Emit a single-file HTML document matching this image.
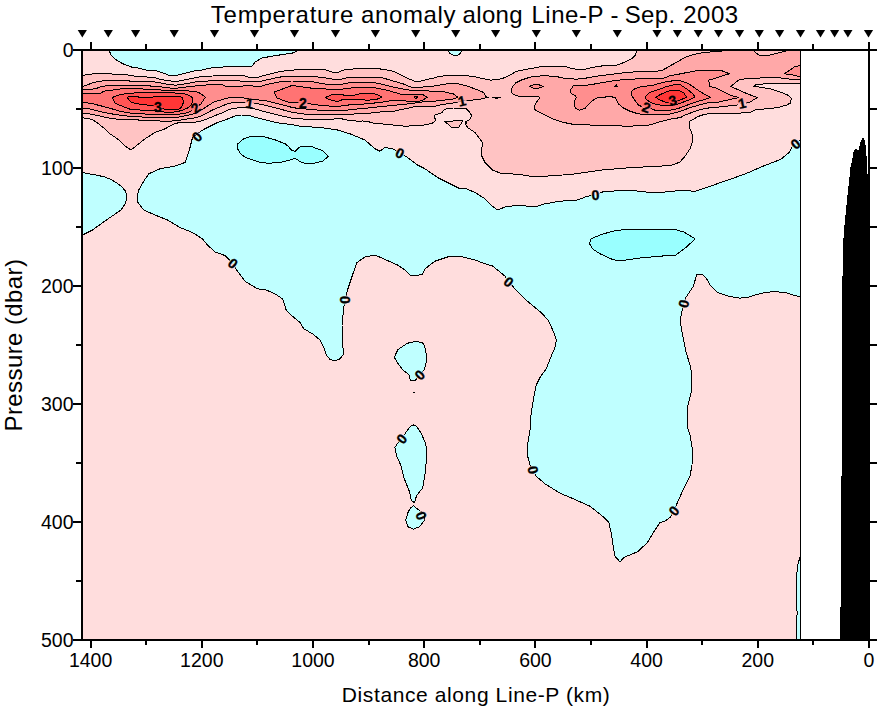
<!DOCTYPE html>
<html><head><meta charset="utf-8"><title>Temperature anomaly along Line-P - Sep. 2003</title>
<style>html,body{margin:0;padding:0;background:#fff;}body{width:878px;height:708px;position:relative;overflow:hidden;font-family:"Liberation Sans",sans-serif;}</style>
</head><body>
<svg width="878" height="708" viewBox="0 0 878 708" style="position:absolute;left:0;top:0">
<rect x="0" y="0" width="878" height="708" fill="#fff"/>
<g shape-rendering="crispEdges">
<rect x="82.5" y="50.0" width="718.0" height="589.5" fill="#FFDDDD"/>
<path d="M109.4 50.0 L109.4 51.0 L111.2 55.5 L115.0 59.2 L122.5 63.6 L132.5 67.4 L140.0 68.3 L145.0 69.9 L156.0 70.8 L160.0 72.0 L164.8 73.6 L168.7 75.2 L177.5 75.2 L183.9 73.6 L190.3 72.0 L195.0 70.8 L199.8 70.4 L211.2 68.0 L222.0 67.2 L227.4 66.1 L252.1 66.1 L255.3 61.8 L261.7 58.1 L273.5 55.9 L284.3 54.3 L292.0 53.2 L296.3 51.6 L296.8 50.0 Z" fill="#BFFFFF" stroke="#000" stroke-width="1" stroke-linejoin="round"/>
<path d="M448.1 50.0 L448.1 51.1 L450.3 53.8 L454.5 55.9 L458.8 54.8 L461.5 51.6 L461.5 50.0 Z" fill="#BFFFFF" stroke="#000" stroke-width="1" stroke-linejoin="round"/>
<path d="M82.5 172.5 L87.5 173.5 L96.0 175.0 L105.0 177.0 L112.0 180.0 L117.5 183.5 L122.0 187.0 L125.0 190.5 L127.0 196.0 L126.5 200.0 L125.0 204.0 L121.0 210.0 L113.0 215.5 L105.0 221.0 L92.5 230.0 L82.5 235.0 Z" fill="#BFFFFF" stroke="#000" stroke-width="1" stroke-linejoin="round"/>
<path d="M800.5 140.0 L795.5 143.8 L791.8 147.5 L789.2 152.5 L780.5 159.5 L763.0 166.2 L745.5 173.8 L728.0 180.0 L708.0 187.0 L695.5 191.2 L680.0 190.5 L660.0 192.5 L650.0 192.5 L635.0 190.8 L620.0 190.5 L602.5 192.0 L595.5 195.0 L587.5 196.2 L577.5 200.0 L560.0 201.2 L545.0 203.8 L537.5 206.2 L527.5 206.2 L520.0 205.0 L505.0 207.0 L497.5 210.0 L492.5 206.2 L485.0 198.8 L475.0 192.5 L465.0 188.2 L460.0 188.8 L450.0 183.8 L437.5 177.5 L425.0 168.8 L417.5 165.0 L407.5 157.5 L400.0 153.0 L392.5 148.8 L385.0 147.5 L380.0 151.2 L375.0 148.8 L365.0 140.0 L350.0 133.8 L337.5 130.0 L320.0 127.5 L300.0 126.2 L292.0 124.6 L282.1 123.5 L273.5 121.9 L264.9 119.8 L256.4 117.6 L248.8 115.5 L241.3 115.0 L234.9 116.0 L228.4 118.7 L222.0 121.0 L217.5 122.5 L205.0 128.8 L201.0 131.0 L192.5 137.5 L190.0 147.5 L187.5 156.0 L185.0 162.5 L175.0 166.0 L160.0 168.8 L148.8 173.8 L143.8 181.0 L138.8 190.0 L137.0 196.0 L138.0 202.5 L143.8 210.0 L155.0 215.0 L167.5 220.0 L180.0 227.5 L192.5 232.5 L202.5 238.8 L207.5 245.0 L215.0 252.0 L225.0 255.5 L233.0 263.8 L237.5 271.2 L245.0 281.2 L257.5 288.8 L266.2 290.0 L275.0 293.8 L282.5 298.8 L286.2 310.0 L292.5 316.2 L300.0 322.5 L303.8 328.8 L312.5 333.8 L320.0 340.0 L323.8 347.5 L326.2 355.0 L330.0 359.5 L335.0 360.8 L340.0 358.8 L343.8 353.8 L342.5 345.0 L342.0 325.0 L343.8 307.5 L345.0 300.0 L347.5 290.0 L352.5 275.0 L357.0 262.5 L365.0 257.0 L375.0 255.0 L385.0 259.5 L397.5 265.0 L405.0 270.0 L410.0 275.0 L415.0 275.5 L422.5 274.5 L425.0 268.8 L435.0 261.2 L447.5 257.0 L460.0 256.2 L475.0 260.0 L485.0 263.8 L492.5 266.0 L500.0 272.0 L505.0 276.2 L508.8 282.0 L515.0 288.8 L527.5 301.2 L542.5 313.8 L548.8 321.2 L553.8 332.5 L556.2 340.0 L555.5 346.2 L551.2 356.2 L546.2 368.8 L540.0 377.5 L536.2 385.0 L533.8 397.5 L531.2 412.5 L530.0 430.0 L527.5 445.0 L528.0 457.5 L530.0 465.0 L533.0 470.0 L536.2 476.2 L545.0 483.8 L560.0 493.2 L575.0 499.5 L590.0 506.2 L602.5 516.2 L608.8 522.5 L611.2 532.5 L613.0 545.0 L615.0 556.2 L620.0 562.0 L623.8 557.5 L637.5 551.8 L647.5 542.5 L655.0 530.0 L660.0 522.5 L665.0 521.2 L670.0 517.5 L673.8 510.8 L677.5 502.5 L682.5 491.2 L690.0 476.2 L692.0 465.0 L692.5 450.0 L690.0 435.0 L687.5 427.5 L687.0 420.0 L688.0 405.0 L691.2 392.5 L692.0 380.0 L690.8 367.5 L686.2 352.5 L682.5 335.0 L680.5 322.5 L681.2 313.8 L683.8 303.8 L685.9 297.4 L688.9 292.9 L693.3 286.3 L695.5 278.9 L697.0 274.4 L702.2 274.0 L706.7 278.9 L710.4 285.5 L717.0 292.2 L727.4 295.9 L739.2 298.1 L746.6 297.7 L754.0 295.2 L764.4 292.6 L774.8 291.5 L786.6 292.9 L794.0 295.2 L800.5 297.1 Z" fill="#BFFFFF" stroke="#000" stroke-width="1" stroke-linejoin="round"/>
<path d="M394.2 357.3 L398.0 349.5 L407.3 343.3 L416.6 341.1 L423.4 343.3 L425.9 351.1 L426.6 360.4 L424.4 369.7 L419.7 375.0 L415.0 380.6 L410.4 380.6 L408.8 374.4 L402.6 369.7 L398.0 363.5 Z" fill="#BFFFFF" stroke="#000" stroke-width="1" stroke-linejoin="round"/>
<path d="M413.5 425.0 L416.6 426.3 L421.3 433.4 L425.9 444.3 L426.6 456.7 L425.3 472.3 L422.8 487.8 L416.6 495.6 L414.4 502.7 L411.3 500.2 L409.8 492.5 L404.2 478.5 L401.1 466.0 L396.4 455.2 L394.9 447.4 L398.0 442.7 L401.7 438.7 L407.3 430.3 L410.4 426.3 Z" fill="#BFFFFF" stroke="#000" stroke-width="1" stroke-linejoin="round"/>
<path d="M413.5 505.8 L418.2 509.6 L424.4 514.2 L425.0 517.0 L424.4 520.4 L419.7 526.7 L413.5 529.1 L407.9 526.7 L405.7 520.4 L407.9 512.7 L410.4 508.0 Z" fill="#BFFFFF" stroke="#000" stroke-width="1" stroke-linejoin="round"/>
<path d="M800.5 554.9 L797.6 565.9 L796.3 578.7 L796.3 608.0 L797.2 611.7 L796.3 626.4 L796.3 639.5 L800.5 639.5 Z" fill="#BFFFFF" stroke="#000" stroke-width="1" stroke-linejoin="round"/>
<path d="M237.3 144.4 L242.5 139.4 L250.0 136.5 L262.6 136.5 L273.9 139.4 L285.1 143.8 L288.9 146.9 L291.4 150.1 L295.2 151.3 L300.2 146.6 L311.5 146.6 L322.7 150.7 L328.4 156.3 L322.7 161.1 L315.2 163.0 L303.9 163.0 L299.5 161.3 L295.2 158.2 L287.6 160.7 L280.1 162.6 L267.6 163.2 L258.8 162.0 L246.3 157.8 L241.3 154.4 L238.1 150.1 Z" fill="#99FFFF" stroke="#000" stroke-width="1" stroke-linejoin="round"/>
<path d="M589.5 243.8 L591.0 238.8 L600.0 235.0 L612.5 231.2 L627.5 229.2 L645.0 229.5 L660.0 229.5 L675.0 229.5 L683.8 232.0 L695.0 238.8 L687.5 246.2 L676.0 255.0 L660.0 256.2 L640.0 258.0 L620.0 260.8 L612.5 259.5 L600.0 253.8 L592.5 248.8 Z" fill="#99FFFF" stroke="#000" stroke-width="1" stroke-linejoin="round"/>
<path d="M82.5 75.4 L89.2 74.4 L98.0 73.3 L111.5 73.3 L112.3 74.4 L125.1 74.6 L133.8 76.0 L140.0 76.4 L146.6 77.0 L152.0 77.4 L156.0 78.0 L160.0 79.2 L164.0 80.0 L172.7 81.2 L178.3 81.2 L183.9 80.0 L191.9 78.4 L199.8 76.8 L212.6 76.0 L222.0 75.6 L244.5 75.8 L248.8 77.4 L257.4 77.4 L264.9 75.2 L275.7 72.5 L284.3 70.9 L292.0 70.4 L298.4 69.3 L324.2 69.3 L328.5 70.9 L336.0 73.1 L342.5 70.4 L347.8 69.3 L356.4 68.8 L362.0 68.8 L377.0 68.5 L386.7 69.9 L394.2 71.5 L402.8 75.8 L409.2 79.0 L414.6 81.1 L421.1 81.1 L428.6 79.0 L432.0 78.5 L439.5 76.3 L453.5 75.2 L466.4 75.6 L474.9 76.8 L482.5 78.5 L490.0 80.1 L496.4 79.8 L502.0 78.5 L505.2 77.4 L510.6 74.7 L516.0 71.5 L523.5 69.9 L532.1 68.3 L541.7 66.6 L553.5 66.1 L564.3 66.1 L568.6 67.7 L572.0 68.3 L578.4 69.9 L582.7 69.9 L593.5 67.2 L604.2 65.6 L617.1 65.0 L625.7 61.8 L632.1 58.6 L635.3 55.4 L636.4 51.1 L636.4 50.0 L800.5 50.0 L800.5 83.2 L777.7 83.8 L756.4 84.1 L753.9 86.3 L758.9 87.0 L770.2 88.8 L780.2 92.0 L787.7 95.1 L791.5 98.2 L790.2 103.2 L786.5 105.1 L777.7 107.6 L765.2 108.9 L756.4 109.5 L751.4 112.0 L737.6 113.3 L712.5 113.3 L704.3 114.4 L697.8 116.6 L692.5 119.8 L690.0 121.2 L689.5 127.5 L692.0 133.8 L693.0 140.0 L690.0 148.8 L685.0 156.2 L680.0 162.0 L672.5 165.0 L660.0 166.2 L632.5 167.5 L602.5 170.0 L570.0 174.5 L545.0 176.2 L535.0 177.0 L520.0 174.5 L500.0 173.0 L492.5 170.0 L485.0 162.5 L481.2 155.0 L482.5 142.5 L475.0 132.5 L467.5 127.5 L465.5 123.8 L466.9 122.5 L465.3 121.9 L469.6 119.8 L471.7 115.5 L469.6 112.3 L466.4 108.8 L453.5 108.0 L444.9 109.1 L441.7 112.8 L435.2 115.0 L434.1 117.1 L435.8 119.8 L434.1 121.9 L432.0 123.5 L426.4 124.6 L422.1 125.4 L405.0 126.2 L396.4 125.4 L387.8 124.3 L374.9 123.5 L368.4 121.7 L362.0 120.9 L360.7 121.4 L347.8 120.3 L339.2 118.2 L334.9 118.2 L332.8 119.8 L319.9 119.8 L307.0 119.8 L298.4 118.2 L292.0 118.2 L282.1 116.0 L273.5 113.9 L264.9 111.7 L255.3 109.1 L249.9 108.0 L241.3 107.4 L232.7 108.5 L226.3 110.7 L222.0 113.1 L218.2 114.3 L212.6 116.7 L207.8 118.6 L201.4 121.0 L195.0 122.2 L187.1 122.6 L177.5 123.0 L173.5 124.2 L170.0 126.0 L165.0 128.8 L155.0 132.5 L145.0 138.8 L136.0 146.0 L131.0 150.0 L125.0 146.0 L117.5 138.8 L110.0 133.8 L105.0 129.0 L100.3 125.4 L97.2 122.6 L93.2 120.2 L88.4 118.6 L82.5 117.8 Z" fill="#FFC3C3" stroke="#000" stroke-width="1" stroke-linejoin="round"/>
<path d="M444.5 121.2 L463.0 120.8 L458.8 127.0 L451.2 127.0 Z" fill="#FFC3C3" stroke="#000" stroke-width="1" stroke-linejoin="round"/>
<path d="M82.5 86.3 L86.8 85.2 L92.4 82.8 L98.0 81.6 L106.7 80.4 L129.0 80.4 L129.8 81.3 L140.0 81.4 L152.0 81.6 L160.0 82.8 L167.9 84.4 L175.9 85.2 L178.3 84.8 L187.1 83.6 L195.0 82.0 L203.0 81.2 L212.6 80.8 L222.0 80.6 L239.2 80.6 L241.3 81.7 L259.6 81.7 L267.1 79.8 L275.7 77.9 L284.3 76.3 L292.0 76.3 L315.6 76.3 L318.8 77.4 L327.4 78.1 L334.9 79.5 L340.3 79.5 L347.8 77.4 L362.0 77.5 L382.4 77.7 L389.9 80.1 L397.4 82.2 L404.9 84.4 L409.2 86.5 L414.6 87.8 L417.8 87.8 L426.4 86.5 L432.0 86.3 L440.6 84.9 L450.3 83.3 L459.9 84.1 L468.5 86.5 L477.1 89.7 L483.5 92.4 L485.7 96.2 L488.4 97.5 L483.5 98.3 L479.2 99.4 L474.9 99.9 L469.6 100.2 L462.0 100.8 L455.6 102.6 L440.6 104.8 L432.0 106.9 L413.5 106.9 L409.2 108.0 L400.7 109.6 L394.2 111.2 L382.4 111.7 L368.4 113.3 L362.0 113.9 L360.9 113.3 L352.1 114.2 L337.1 114.4 L324.2 114.4 L307.0 114.4 L298.4 113.3 L292.0 112.3 L282.1 109.6 L273.5 107.4 L264.9 105.3 L255.3 103.1 L243.5 102.1 L232.7 102.6 L226.3 104.2 L222.0 106.2 L218.2 107.5 L211.0 110.7 L206.2 113.5 L201.4 115.9 L195.0 117.8 L187.1 119.0 L177.5 120.6 L168.7 121.3 L160.0 121.0 L152.0 120.8 L138.6 120.4 L137.8 119.4 L116.3 119.4 L115.5 118.6 L106.7 117.8 L98.0 115.5 L89.2 113.9 L82.5 113.1 Z" fill="#FFA8A8" stroke="#000" stroke-width="1" stroke-linejoin="round"/>
<path d="M492.0 97.0 L500.7 97.0 L496.4 98.6 Z" fill="#FFA8A8" stroke="#000" stroke-width="1" stroke-linejoin="round"/>
<path d="M82.5 89.5 L92.4 89.1 L98.0 87.9 L101.9 86.3 L112.3 85.2 L149.8 85.2 L150.6 86.3 L152.0 86.3 L160.0 86.7 L167.9 87.9 L175.9 88.3 L182.3 87.5 L191.9 86.3 L199.8 85.6 L207.8 84.8 L222.0 84.6 L226.3 86.5 L241.3 86.5 L245.6 85.4 L253.1 86.0 L261.7 86.0 L267.1 84.4 L275.7 82.7 L284.3 81.1 L292.0 81.0 L311.3 81.4 L319.9 83.3 L328.5 84.4 L341.4 84.4 L350.0 82.7 L362.0 82.2 L373.8 82.4 L382.4 84.4 L391.0 86.5 L399.6 88.4 L407.1 89.7 L413.5 90.8 L422.1 90.8 L432.0 91.1 L441.7 91.3 L453.5 94.0 L457.8 97.2 L453.5 98.9 L440.6 100.5 L432.0 101.4 L426.4 101.5 L417.8 102.6 L409.2 103.7 L399.6 104.8 L382.4 106.4 L368.4 108.0 L362.0 108.5 L352.1 109.6 L341.4 110.7 L319.9 110.3 L307.0 109.1 L298.4 108.5 L292.0 107.4 L282.1 104.8 L273.5 102.6 L264.9 100.5 L257.4 99.9 L253.1 99.4 L247.8 98.9 L241.3 97.2 L232.7 97.2 L226.3 98.3 L222.0 99.7 L218.2 100.7 L213.4 102.3 L207.8 105.9 L203.0 109.1 L199.8 110.7 L195.0 113.5 L187.1 115.5 L178.3 117.1 L167.9 117.8 L160.0 117.4 L152.0 117.3 L142.6 117.1 L133.8 116.3 L125.1 115.9 L116.3 114.7 L107.5 113.1 L98.0 111.1 L89.2 108.7 L82.5 108.3 Z" fill="#FF8E8E" stroke="#000" stroke-width="1" stroke-linejoin="round"/>
<path d="M82.5 93.9 L92.4 93.9 L101.1 93.1 L103.5 91.1 L110.7 90.7 L115.5 89.1 L133.0 88.7 L142.6 88.5 L143.4 89.5 L152.0 89.6 L160.0 89.9 L167.9 90.7 L182.3 90.9 L195.0 91.1 L199.8 93.1 L205.4 97.1 L202.2 101.9 L200.6 104.3 L195.5 107.5 L190.3 111.5 L185.5 113.1 L178.3 114.3 L167.9 114.7 L160.0 114.5 L152.0 114.3 L142.6 113.9 L133.0 113.5 L125.1 112.3 L119.5 111.1 L111.5 108.7 L102.7 106.3 L93.2 103.9 L82.5 101.9 Z" fill="#FF7373" stroke="#000" stroke-width="1" stroke-linejoin="round"/>
<path d="M112.3 97.9 L113.9 96.7 L119.5 94.7 L129.0 93.1 L152.0 92.7 L182.3 93.1 L187.1 94.7 L191.9 97.1 L192.7 100.3 L191.9 103.5 L190.3 105.9 L187.1 108.3 L182.3 110.3 L175.9 111.9 L167.9 112.3 L160.0 111.7 L152.0 110.6 L137.8 109.9 L129.8 109.1 L119.5 105.1 L114.7 102.7 L113.1 99.5 Z" fill="#FF5555" stroke="#000" stroke-width="1" stroke-linejoin="round"/>
<path d="M127.5 97.5 L129.0 96.3 L137.8 96.3 L138.6 97.1 L152.0 97.1 L160.0 96.3 L178.3 96.3 L182.3 97.5 L183.5 101.9 L182.3 105.9 L179.9 108.7 L175.9 109.9 L169.5 109.9 L165.2 109.5 L152.0 105.3 L147.4 105.1 L137.8 103.9 L131.4 102.3 L129.0 100.3 Z" fill="#FF3636" stroke="#000" stroke-width="1" stroke-linejoin="round"/>
<path d="M274.4 91.9 L278.9 90.3 L286.4 87.6 L292.0 85.4 L302.7 87.0 L311.3 88.1 L328.5 89.2 L341.4 89.2 L350.0 88.1 L362.0 87.0 L373.8 87.6 L382.4 89.2 L391.0 91.3 L398.5 93.5 L400.7 94.2 L422.1 94.2 L427.5 97.2 L422.1 100.5 L417.8 101.5 L414.6 101.3 L391.0 100.5 L386.7 101.5 L378.1 102.6 L368.4 103.7 L362.0 104.2 L350.0 104.8 L341.4 106.0 L328.5 106.0 L319.9 105.3 L311.3 104.2 L309.2 103.1 L296.3 102.6 L292.0 102.8 L288.6 102.1 L282.1 99.9 L276.8 97.8 L275.1 94.6 Z" fill="#FF7373" stroke="#000" stroke-width="1" stroke-linejoin="round"/>
<path d="M325.3 97.2 L328.5 96.2 L332.8 94.2 L342.5 94.2 L343.5 95.1 L354.3 95.1 L362.0 93.2 L373.8 93.5 L378.1 95.1 L381.9 97.2 L378.1 98.9 L372.7 99.9 L366.3 100.2 L362.0 99.3 L342.5 99.6 L338.2 101.3 L334.9 101.0 L328.5 99.4 Z" fill="#FF5555" stroke="#000" stroke-width="1" stroke-linejoin="round"/>
<path d="M414.0 96.8 L417.6 96.8 L415.8 98.6 Z" fill="#FF5555" stroke="#000" stroke-width="1" stroke-linejoin="round"/>
<path d="M511.1 90.8 L512.7 86.5 L516.0 82.7 L521.3 80.1 L527.8 77.9 L533.1 76.3 L544.9 75.8 L555.7 76.3 L562.1 77.9 L572.0 78.8 L576.3 79.2 L586.0 78.1 L598.8 75.8 L612.8 74.2 L627.8 72.3 L642.0 71.5 L661.3 70.9 L667.8 67.2 L676.4 62.3 L684.9 57.5 L692.5 54.8 L702.1 52.7 L711.3 51.9 L721.3 51.2 L723.0 50.0 L753.9 50.0 L753.9 51.2 L758.9 55.0 L768.9 55.3 L777.7 53.1 L785.2 51.2 L785.2 50.0 L800.5 50.0 L800.5 79.4 L792.7 79.4 L777.7 77.6 L768.9 77.6 L755.1 78.2 L746.4 78.6 L738.8 80.1 L730.7 86.3 L737.6 89.5 L747.6 93.9 L757.6 97.6 L753.9 99.5 L749.5 102.6 L742.0 103.6 L736.3 105.1 L718.8 107.0 L712.0 107.4 L702.1 109.1 L692.5 112.3 L684.9 115.0 L680.7 117.6 L672.1 118.7 L661.3 121.4 L652.7 124.1 L647.5 125.5 L627.5 126.2 L590.0 125.0 L582.7 124.1 L572.0 124.1 L566.4 123.0 L560.0 121.4 L552.5 118.7 L544.9 115.0 L538.5 111.7 L534.7 109.6 L534.2 106.9 L536.4 102.6 L539.6 97.8 L538.5 96.7 L521.3 96.7 L516.0 95.6 L512.2 93.5 Z" fill="#FFA8A8" stroke="#000" stroke-width="1" stroke-linejoin="round"/>
<path d="M529.4 86.5 L534.2 84.4 L538.5 84.6 L543.3 86.5 L538.5 88.1 L534.2 88.4 Z" fill="#FF8E8E" stroke="#000" stroke-width="1" stroke-linejoin="round"/>
<path d="M570.2 90.5 L573.1 86.0 L586.0 85.4 L598.8 83.3 L613.9 80.6 L627.8 79.2 L642.0 78.8 L661.3 79.0 L669.9 75.8 L678.5 74.2 L687.1 72.5 L695.7 70.9 L704.3 70.4 L711.3 70.0 L720.0 70.0 L729.4 73.8 L725.0 75.0 L717.5 77.6 L708.8 80.1 L709.4 86.3 L716.3 88.2 L725.0 92.6 L730.0 95.1 L738.8 97.6 L732.6 98.9 L718.8 102.0 L712.0 102.6 L706.4 103.1 L700.0 104.8 L692.5 106.9 L684.9 109.6 L677.4 112.3 L667.8 114.4 L652.7 115.0 L646.3 114.4 L642.0 114.4 L636.4 113.3 L630.0 111.2 L623.5 108.0 L618.2 103.7 L616.6 100.5 L614.9 97.2 L608.5 96.7 L597.8 97.8 L593.5 99.9 L589.2 103.7 L584.9 108.5 L579.5 110.1 L575.8 108.5 L574.1 104.8 L574.7 101.0 L576.3 97.8 L575.2 95.6 L572.0 94.0 L570.2 92.5 Z" fill="#FF8E8E" stroke="#000" stroke-width="1" stroke-linejoin="round"/>
<path d="M800.5 65.7 L795.2 66.3 L790.2 70.0 L784.0 73.8 L792.7 75.0 L800.5 76.9 Z" fill="#FF8E8E" stroke="#000" stroke-width="1" stroke-linejoin="round"/>
<path d="M614.6 86.6 L617.8 86.6 L616.2 84.8 Z" fill="#FF7373" stroke="#000" stroke-width="1" stroke-linejoin="round"/>
<path d="M631.1 92.4 L633.2 89.7 L637.5 87.6 L642.0 86.5 L652.7 85.4 L663.5 82.2 L674.2 80.6 L679.6 80.6 L688.2 83.3 L693.5 87.0 L698.9 90.8 L705.3 94.6 L710.7 97.4 L705.0 99.5 L699.0 101.0 L691.3 103.5 L684.9 106.0 L677.4 108.8 L669.0 110.5 L656.0 110.5 L651.6 109.0 L648.4 107.0 L644.0 108.5 L640.2 105.8 L638.6 105.3 L635.3 101.0 L632.1 96.2 Z" fill="#FF7373" stroke="#000" stroke-width="1" stroke-linejoin="round"/>
<path d="M645.2 96.7 L649.5 92.4 L658.1 89.7 L666.7 86.5 L676.4 84.1 L680.7 84.9 L687.1 89.2 L692.5 93.5 L695.1 97.2 L691.4 98.9 L684.9 101.5 L677.4 104.2 L668.8 105.8 L658.1 104.8 L650.6 102.6 L646.3 99.4 Z" fill="#FF5555" stroke="#000" stroke-width="1" stroke-linejoin="round"/>
<path d="M655.4 97.2 L662.4 93.5 L669.9 90.6 L679.6 90.6 L683.9 92.9 L686.6 97.2 L682.8 98.9 L677.4 101.0 L666.7 102.6 L662.4 101.0 L658.1 98.9 Z" fill="#FF3636" stroke="#000" stroke-width="1" stroke-linejoin="round"/>
<rect x="413" y="392" width="2" height="1" fill="#000"/>
<line x1="800.5" y1="50.0" x2="800.5" y2="639.5" stroke="#000" stroke-width="1.2"/>
<path d="M839.8 639.5 L839.8 607.0 L841.0 607.0 L841.0 475.5 L842.0 475.5 L842.0 387.0 L842.1 292.0 L842.8 265.0 L843.6 234.6 L845.5 215.5 L847.0 200.0 L848.6 185.0 L850.5 167.5 L852.4 158.2 L853.5 152.0 L855.0 148.7 L857.0 149.5 L858.5 150.0 L860.5 142.0 L862.5 138.5 L863.9 137.2 L865.0 142.0 L865.8 146.7 L866.8 160.0 L867.7 177.3 L869.0 180.0 L869.0 639.5 Z" fill="#000"/>
<g stroke="#000" stroke-width="2" fill="none">
<line x1="81" y1="49.7" x2="877" y2="49.7"/>
<line x1="81" y1="639.6" x2="877" y2="639.6"/>
<line x1="82.0" y1="48.7" x2="82.0" y2="640.6"/>
<line x1="869.0" y1="48.7" x2="869.0" y2="640.6"/>
<line x1="869.0" y1="49.7" x2="869.0" y2="42.2"/>
<line x1="869.0" y1="639.6" x2="869.0" y2="647.6"/>
<line x1="813.4" y1="49.7" x2="813.4" y2="44.2"/>
<line x1="813.4" y1="639.6" x2="813.4" y2="645.1"/>
<line x1="757.8" y1="49.7" x2="757.8" y2="42.2"/>
<line x1="757.8" y1="639.6" x2="757.8" y2="647.6"/>
<line x1="702.2" y1="49.7" x2="702.2" y2="44.2"/>
<line x1="702.2" y1="639.6" x2="702.2" y2="645.1"/>
<line x1="646.6" y1="49.7" x2="646.6" y2="42.2"/>
<line x1="646.6" y1="639.6" x2="646.6" y2="647.6"/>
<line x1="591.0" y1="49.7" x2="591.0" y2="44.2"/>
<line x1="591.0" y1="639.6" x2="591.0" y2="645.1"/>
<line x1="535.4" y1="49.7" x2="535.4" y2="42.2"/>
<line x1="535.4" y1="639.6" x2="535.4" y2="647.6"/>
<line x1="479.8" y1="49.7" x2="479.8" y2="44.2"/>
<line x1="479.8" y1="639.6" x2="479.8" y2="645.1"/>
<line x1="424.2" y1="49.7" x2="424.2" y2="42.2"/>
<line x1="424.2" y1="639.6" x2="424.2" y2="647.6"/>
<line x1="368.6" y1="49.7" x2="368.6" y2="44.2"/>
<line x1="368.6" y1="639.6" x2="368.6" y2="645.1"/>
<line x1="313.0" y1="49.7" x2="313.0" y2="42.2"/>
<line x1="313.0" y1="639.6" x2="313.0" y2="647.6"/>
<line x1="257.4" y1="49.7" x2="257.4" y2="44.2"/>
<line x1="257.4" y1="639.6" x2="257.4" y2="645.1"/>
<line x1="201.8" y1="49.7" x2="201.8" y2="42.2"/>
<line x1="201.8" y1="639.6" x2="201.8" y2="647.6"/>
<line x1="146.2" y1="49.7" x2="146.2" y2="44.2"/>
<line x1="146.2" y1="639.6" x2="146.2" y2="645.1"/>
<line x1="90.6" y1="49.7" x2="90.6" y2="42.2"/>
<line x1="90.6" y1="639.6" x2="90.6" y2="647.6"/>
<line x1="82.0" y1="49.7" x2="72.5" y2="49.7"/>
<line x1="869.0" y1="49.7" x2="877.0" y2="49.7"/>
<line x1="82.0" y1="108.7" x2="75.5" y2="108.7"/>
<line x1="869.0" y1="108.7" x2="877.0" y2="108.7"/>
<line x1="82.0" y1="167.7" x2="72.5" y2="167.7"/>
<line x1="869.0" y1="167.7" x2="877.0" y2="167.7"/>
<line x1="82.0" y1="226.7" x2="75.5" y2="226.7"/>
<line x1="869.0" y1="226.7" x2="877.0" y2="226.7"/>
<line x1="82.0" y1="285.7" x2="72.5" y2="285.7"/>
<line x1="869.0" y1="285.7" x2="877.0" y2="285.7"/>
<line x1="82.0" y1="344.6" x2="75.5" y2="344.6"/>
<line x1="869.0" y1="344.6" x2="877.0" y2="344.6"/>
<line x1="82.0" y1="403.6" x2="72.5" y2="403.6"/>
<line x1="869.0" y1="403.6" x2="877.0" y2="403.6"/>
<line x1="82.0" y1="462.6" x2="75.5" y2="462.6"/>
<line x1="869.0" y1="462.6" x2="877.0" y2="462.6"/>
<line x1="82.0" y1="521.6" x2="72.5" y2="521.6"/>
<line x1="869.0" y1="521.6" x2="877.0" y2="521.6"/>
<line x1="82.0" y1="580.6" x2="75.5" y2="580.6"/>
<line x1="869.0" y1="580.6" x2="877.0" y2="580.6"/>
<line x1="82.0" y1="639.6" x2="72.5" y2="639.6"/>
<line x1="869.0" y1="639.6" x2="877.0" y2="639.6"/>
</g>
</g>
<path d="M77.7 30 L86.9 30 L82.3 37.5 Z" fill="#000"/>
<path d="M103.7 30 L112.9 30 L108.3 37.5 Z" fill="#000"/>
<path d="M131.0 30 L140.2 30 L135.6 37.5 Z" fill="#000"/>
<path d="M169.6 30 L178.8 30 L174.2 37.5 Z" fill="#000"/>
<path d="M209.9 30 L219.1 30 L214.5 37.5 Z" fill="#000"/>
<path d="M249.9 30 L259.1 30 L254.5 37.5 Z" fill="#000"/>
<path d="M289.9 30 L299.1 30 L294.5 37.5 Z" fill="#000"/>
<path d="M330.9 30 L340.1 30 L335.5 37.5 Z" fill="#000"/>
<path d="M370.8 30 L380.0 30 L375.4 37.5 Z" fill="#000"/>
<path d="M411.1 30 L420.3 30 L415.7 37.5 Z" fill="#000"/>
<path d="M451.1 30 L460.3 30 L455.7 37.5 Z" fill="#000"/>
<path d="M491.0 30 L500.2 30 L495.6 37.5 Z" fill="#000"/>
<path d="M531.7 30 L540.9 30 L536.3 37.5 Z" fill="#000"/>
<path d="M571.7 30 L580.9 30 L576.3 37.5 Z" fill="#000"/>
<path d="M612.7 30 L621.9 30 L617.3 37.5 Z" fill="#000"/>
<path d="M652.4 30 L661.6 30 L657.0 37.5 Z" fill="#000"/>
<path d="M672.8 30 L682.0 30 L677.4 37.5 Z" fill="#000"/>
<path d="M693.7 30 L702.9 30 L698.3 37.5 Z" fill="#000"/>
<path d="M714.0 30 L723.2 30 L718.6 37.5 Z" fill="#000"/>
<path d="M734.9 30 L744.1 30 L739.5 37.5 Z" fill="#000"/>
<path d="M754.7 30 L763.9 30 L759.3 37.5 Z" fill="#000"/>
<path d="M775.0 30 L784.2 30 L779.6 37.5 Z" fill="#000"/>
<path d="M795.9 30 L805.1 30 L800.5 37.5 Z" fill="#000"/>
<path d="M815.9 30 L825.1 30 L820.5 37.5 Z" fill="#000"/>
<path d="M830.0 30 L839.2 30 L834.6 37.5 Z" fill="#000"/>
<path d="M843.3 30 L852.5 30 L847.9 37.5 Z" fill="#000"/>
<path d="M863.9 30 L873.1 30 L868.5 37.5 Z" fill="#000"/>
<text y="22.6" font-family="Liberation Sans, sans-serif" font-size="24"><tspan x="210.8" style="letter-spacing:0.78px">Temperature</tspan> <tspan x="361.1" style="letter-spacing:0.62px">anomaly</tspan> <tspan x="462.6" style="letter-spacing:0.32px">along</tspan> <tspan x="531.5" style="letter-spacing:0.52px">Line-P</tspan> <tspan x="610.5" style="letter-spacing:0.00px">-</tspan> <tspan x="624.8" style="letter-spacing:0.30px">Sep.</tspan> <tspan x="683.2" style="letter-spacing:0.50px">2003</tspan></text>
<text x="341.8" y="701.6" font-family="Liberation Sans, sans-serif" font-size="21" textLength="268" lengthAdjust="spacing">Distance along Line-P (km)</text>
<text transform="translate(22,431.5) rotate(-90)" font-family="Liberation Sans, sans-serif" font-size="24" textLength="172.5" lengthAdjust="spacing">Pressure (dbar)</text>
<text x="869.0" y="666.5" font-family="Liberation Sans, sans-serif" font-size="19.5" text-anchor="middle">0</text>
<text x="757.8" y="666.5" font-family="Liberation Sans, sans-serif" font-size="19.5" text-anchor="middle">200</text>
<text x="646.6" y="666.5" font-family="Liberation Sans, sans-serif" font-size="19.5" text-anchor="middle">400</text>
<text x="535.4" y="666.5" font-family="Liberation Sans, sans-serif" font-size="19.5" text-anchor="middle">600</text>
<text x="424.2" y="666.5" font-family="Liberation Sans, sans-serif" font-size="19.5" text-anchor="middle">800</text>
<text x="313.0" y="666.5" font-family="Liberation Sans, sans-serif" font-size="19.5" text-anchor="middle">1000</text>
<text x="201.8" y="666.5" font-family="Liberation Sans, sans-serif" font-size="19.5" text-anchor="middle">1200</text>
<text x="90.6" y="666.5" font-family="Liberation Sans, sans-serif" font-size="19.5" text-anchor="middle">1400</text>
<text x="73.5" y="56.7" font-family="Liberation Sans, sans-serif" font-size="19.5" text-anchor="end">0</text>
<text x="73.5" y="174.7" font-family="Liberation Sans, sans-serif" font-size="19.5" text-anchor="end">100</text>
<text x="73.5" y="292.7" font-family="Liberation Sans, sans-serif" font-size="19.5" text-anchor="end">200</text>
<text x="73.5" y="410.6" font-family="Liberation Sans, sans-serif" font-size="19.5" text-anchor="end">300</text>
<text x="73.5" y="528.6" font-family="Liberation Sans, sans-serif" font-size="19.5" text-anchor="end">400</text>
<text x="73.5" y="646.6" font-family="Liberation Sans, sans-serif" font-size="19.5" text-anchor="end">500</text>
<line x1="193.3" y1="139.3" x2="199.6" y2="133.0" stroke="#FFDDDD" stroke-width="1.8"/>
<line x1="194.4" y1="140.4" x2="200.7" y2="134.1" stroke="#BFFFFF" stroke-width="1.8"/>
<text transform="translate(197.0,136.7) rotate(-45)" x="0" y="5" font-family="Liberation Sans, sans-serif" font-size="14" font-weight="bold" text-anchor="middle" stroke="#000" stroke-width="0.35">0</text>
<line x1="230.1" y1="260.0" x2="237.0" y2="265.8" stroke="#BFFFFF" stroke-width="1.8"/>
<line x1="229.0" y1="261.2" x2="235.9" y2="267.0" stroke="#FFDDDD" stroke-width="1.8"/>
<text transform="translate(233.0,263.5) rotate(40)" x="0" y="5" font-family="Liberation Sans, sans-serif" font-size="14" font-weight="bold" text-anchor="middle" stroke="#000" stroke-width="0.35">0</text>
<line x1="345.8" y1="295.5" x2="345.8" y2="304.5" stroke="#FFDDDD" stroke-width="1.8"/>
<line x1="344.2" y1="295.5" x2="344.2" y2="304.5" stroke="#BFFFFF" stroke-width="1.8"/>
<text transform="translate(345.0,300.0) rotate(90)" x="0" y="5" font-family="Liberation Sans, sans-serif" font-size="14" font-weight="bold" text-anchor="middle" stroke="#000" stroke-width="0.35">0</text>
<line x1="396.3" y1="150.4" x2="404.4" y2="154.2" stroke="#FFDDDD" stroke-width="1.8"/>
<line x1="395.6" y1="151.8" x2="403.7" y2="155.6" stroke="#BFFFFF" stroke-width="1.8"/>
<text transform="translate(400.0,153.0) rotate(25)" x="0" y="5" font-family="Liberation Sans, sans-serif" font-size="14" font-weight="bold" text-anchor="middle" stroke="#000" stroke-width="0.35">0</text>
<line x1="416.0" y1="377.6" x2="422.3" y2="371.3" stroke="#BFFFFF" stroke-width="1.8"/>
<line x1="417.1" y1="378.7" x2="423.4" y2="372.4" stroke="#FFDDDD" stroke-width="1.8"/>
<text transform="translate(419.7,375.0) rotate(-45)" x="0" y="5" font-family="Liberation Sans, sans-serif" font-size="14" font-weight="bold" text-anchor="middle" stroke="#000" stroke-width="0.35">0</text>
<line x1="398.2" y1="441.6" x2="404.0" y2="434.7" stroke="#FFDDDD" stroke-width="1.8"/>
<line x1="399.4" y1="442.7" x2="405.2" y2="435.8" stroke="#BFFFFF" stroke-width="1.8"/>
<text transform="translate(401.7,438.7) rotate(-50)" x="0" y="5" font-family="Liberation Sans, sans-serif" font-size="14" font-weight="bold" text-anchor="middle" stroke="#000" stroke-width="0.35">0</text>
<line x1="420.5" y1="511.3" x2="423.6" y2="519.8" stroke="#FFDDDD" stroke-width="1.8"/>
<line x1="419.0" y1="511.8" x2="422.1" y2="520.3" stroke="#BFFFFF" stroke-width="1.8"/>
<text transform="translate(421.3,515.8) rotate(70)" x="0" y="5" font-family="Liberation Sans, sans-serif" font-size="14" font-weight="bold" text-anchor="middle" stroke="#000" stroke-width="0.35">0</text>
<line x1="505.8" y1="278.5" x2="512.7" y2="284.3" stroke="#BFFFFF" stroke-width="1.8"/>
<line x1="504.8" y1="279.7" x2="511.7" y2="285.5" stroke="#FFDDDD" stroke-width="1.8"/>
<text transform="translate(508.8,282.0) rotate(40)" x="0" y="5" font-family="Liberation Sans, sans-serif" font-size="14" font-weight="bold" text-anchor="middle" stroke="#000" stroke-width="0.35">0</text>
<line x1="590.9" y1="194.6" x2="599.9" y2="193.8" stroke="#FFDDDD" stroke-width="1.8"/>
<line x1="591.1" y1="196.2" x2="600.1" y2="195.4" stroke="#BFFFFF" stroke-width="1.8"/>
<text transform="translate(595.5,195.0) rotate(-5)" x="0" y="5" font-family="Liberation Sans, sans-serif" font-size="14" font-weight="bold" text-anchor="middle" stroke="#000" stroke-width="0.35">0</text>
<line x1="532.6" y1="465.4" x2="534.9" y2="474.1" stroke="#BFFFFF" stroke-width="1.8"/>
<line x1="531.1" y1="465.9" x2="533.4" y2="474.6" stroke="#FFDDDD" stroke-width="1.8"/>
<text transform="translate(533.0,470.0) rotate(75)" x="0" y="5" font-family="Liberation Sans, sans-serif" font-size="14" font-weight="bold" text-anchor="middle" stroke="#000" stroke-width="0.35">0</text>
<line x1="670.2" y1="513.7" x2="676.0" y2="506.8" stroke="#BFFFFF" stroke-width="1.8"/>
<line x1="671.5" y1="514.7" x2="677.3" y2="507.8" stroke="#FFDDDD" stroke-width="1.8"/>
<text transform="translate(673.8,510.8) rotate(-50)" x="0" y="5" font-family="Liberation Sans, sans-serif" font-size="14" font-weight="bold" text-anchor="middle" stroke="#000" stroke-width="0.35">0</text>
<line x1="681.8" y1="307.9" x2="684.1" y2="299.2" stroke="#BFFFFF" stroke-width="1.8"/>
<line x1="683.4" y1="308.3" x2="685.7" y2="299.6" stroke="#FFDDDD" stroke-width="1.8"/>
<text transform="translate(683.8,303.8) rotate(-75)" x="0" y="5" font-family="Liberation Sans, sans-serif" font-size="14" font-weight="bold" text-anchor="middle" stroke="#000" stroke-width="0.35">0</text>
<line x1="791.5" y1="146.0" x2="798.4" y2="140.2" stroke="#FFDDDD" stroke-width="1.8"/>
<line x1="792.6" y1="147.3" x2="799.5" y2="141.5" stroke="#BFFFFF" stroke-width="1.8"/>
<text transform="translate(795.5,143.8) rotate(-40)" x="0" y="5" font-family="Liberation Sans, sans-serif" font-size="14" font-weight="bold" text-anchor="middle" stroke="#000" stroke-width="0.35">0</text>
<line x1="245.3" y1="102.0" x2="254.2" y2="103.2" stroke="#FFA8A8" stroke-width="1.8"/>
<line x1="245.0" y1="103.6" x2="253.9" y2="104.8" stroke="#FFC3C3" stroke-width="1.8"/>
<text transform="translate(249.6,103.4) rotate(8)" x="0" y="5" font-family="Liberation Sans, sans-serif" font-size="14" font-weight="bold" text-anchor="middle" stroke="#000" stroke-width="0.35">1</text>
<line x1="457.4" y1="101.2" x2="466.2" y2="99.2" stroke="#FFA8A8" stroke-width="1.8"/>
<line x1="457.8" y1="102.8" x2="466.6" y2="100.8" stroke="#FFC3C3" stroke-width="1.8"/>
<text transform="translate(462.0,101.0) rotate(-13)" x="0" y="5" font-family="Liberation Sans, sans-serif" font-size="14" font-weight="bold" text-anchor="middle" stroke="#000" stroke-width="0.35">1</text>
<line x1="737.4" y1="103.4" x2="746.2" y2="101.5" stroke="#FFA8A8" stroke-width="1.8"/>
<line x1="737.8" y1="105.0" x2="746.6" y2="103.1" stroke="#FFC3C3" stroke-width="1.8"/>
<text transform="translate(742.0,103.2) rotate(-12)" x="0" y="5" font-family="Liberation Sans, sans-serif" font-size="14" font-weight="bold" text-anchor="middle" stroke="#000" stroke-width="0.35">1</text>
<line x1="298.4" y1="102.5" x2="307.4" y2="102.5" stroke="#FF7373" stroke-width="1.8"/>
<line x1="298.4" y1="104.1" x2="307.4" y2="104.1" stroke="#FF8E8E" stroke-width="1.8"/>
<text transform="translate(302.9,103.3) rotate(0)" x="0" y="5" font-family="Liberation Sans, sans-serif" font-size="14" font-weight="bold" text-anchor="middle" stroke="#000" stroke-width="0.35">2</text>
<line x1="191.4" y1="109.7" x2="198.7" y2="104.6" stroke="#FF7373" stroke-width="1.8"/>
<line x1="192.3" y1="111.0" x2="199.6" y2="105.9" stroke="#FF8E8E" stroke-width="1.8"/>
<text transform="translate(195.5,107.8) rotate(-35)" x="0" y="5" font-family="Liberation Sans, sans-serif" font-size="14" font-weight="bold" text-anchor="middle" stroke="#000" stroke-width="0.35">2</text>
<line x1="642.3" y1="105.1" x2="650.8" y2="108.2" stroke="#FF7373" stroke-width="1.8"/>
<line x1="641.8" y1="106.6" x2="650.3" y2="109.7" stroke="#FF8E8E" stroke-width="1.8"/>
<text transform="translate(646.3,107.4) rotate(20)" x="0" y="5" font-family="Liberation Sans, sans-serif" font-size="14" font-weight="bold" text-anchor="middle" stroke="#000" stroke-width="0.35">2</text>
<line x1="153.5" y1="106.1" x2="162.5" y2="106.1" stroke="#FF3636" stroke-width="1.8"/>
<line x1="153.5" y1="107.7" x2="162.5" y2="107.7" stroke="#FF5555" stroke-width="1.8"/>
<text transform="translate(158.0,106.9) rotate(0)" x="0" y="5" font-family="Liberation Sans, sans-serif" font-size="14" font-weight="bold" text-anchor="middle" stroke="#000" stroke-width="0.35">3</text>
<line x1="668.2" y1="100.8" x2="676.9" y2="98.5" stroke="#FF3636" stroke-width="1.8"/>
<line x1="668.7" y1="102.3" x2="677.4" y2="100.0" stroke="#FF5555" stroke-width="1.8"/>
<text transform="translate(672.8,100.4) rotate(-15)" x="0" y="5" font-family="Liberation Sans, sans-serif" font-size="14" font-weight="bold" text-anchor="middle" stroke="#000" stroke-width="0.35">3</text>
</svg>
</body></html>
